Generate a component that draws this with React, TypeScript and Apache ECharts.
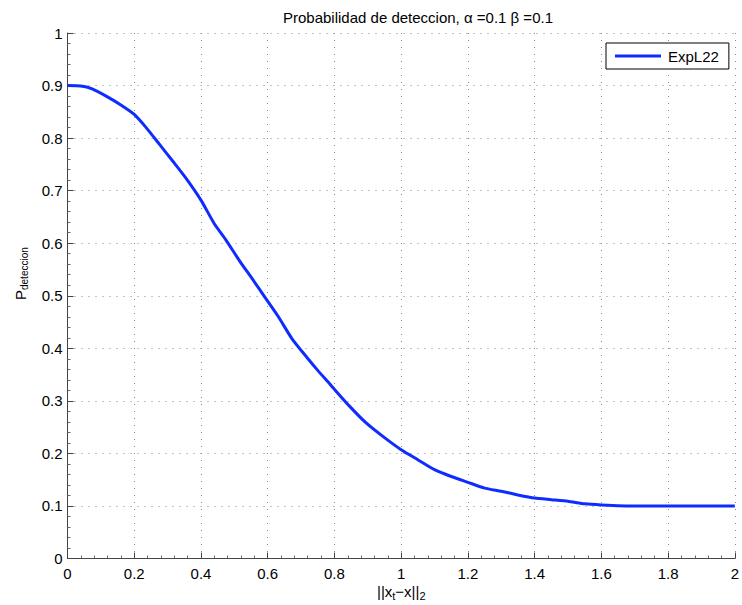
import React, { useEffect, useRef } from "react";
import * as echarts from "echarts";

const xValues = [0, 0.04, 0.072, 0.121, 0.16, 0.2, 0.237, 0.277, 0.317, 0.356, 0.4, 0.44, 0.475, 0.515, 0.554, 0.595, 0.633, 0.673, 0.717, 0.75, 0.785, 0.8, 0.845, 0.895, 0.95, 1.0, 1.05, 1.1, 1.15, 1.2, 1.25, 1.3, 1.35, 1.4, 1.45, 1.5, 1.55, 1.6, 1.7, 1.8, 1.9, 2.0];
const yValues = [0.9, 0.899, 0.894, 0.878, 0.863, 0.845, 0.819, 0.787, 0.755, 0.723, 0.682, 0.637, 0.606, 0.567, 0.532, 0.494, 0.459, 0.418, 0.383, 0.358, 0.333, 0.322, 0.29, 0.258, 0.23, 0.207, 0.188, 0.169, 0.156, 0.145, 0.134, 0.128, 0.121, 0.115, 0.112, 0.109, 0.104, 0.102, 0.1, 0.1, 0.1, 0.1];

const xTickLabels = ["0", "0.2", "0.4", "0.6", "0.8", "1", "1.2", "1.4", "1.6", "1.8", "2"];
const yTickLabels = ["0", "0.1", "0.2", "0.3", "0.4", "0.5", "0.6", "0.7", "0.8", "0.9", "1"];

const seriesName = "ExpL22";
const titleText = "Probabilidad de deteccion, \u03B1 =0.1 \u03B2 =0.1";

const FONT = "'Liberation Sans', Arial, Helvetica, sans-serif";

export default function App() {
  const ref = useRef<HTMLDivElement>(null);
  useEffect(() => {
    if (!ref.current) return;
    const chart = echarts.init(ref.current, null, { renderer: "svg" });
    const axisCommon = {
      axisLine: { show: true, onZero: false, lineStyle: { color: "#444", width: 1 } },
      axisTick: { show: true, inside: true, length: 6, lineStyle: { color: "#444", width: 1 } },
      minorTick: { show: true, splitNumber: 5, length: 3, lineStyle: { color: "#666", width: 1 } },
      splitLine: { show: true, lineStyle: { color: "#888", width: 1, type: [1, 6] } },
    };
    chart.setOption({
      animation: false,
      backgroundColor: "#fff",
      textStyle: { fontFamily: FONT },
      title: {
        text: titleText,
        left: 283,
        top: 10,
        padding: 0,
        textStyle: { fontSize: 15, fontWeight: "normal", color: "#000", fontFamily: FONT },
      },
      grid: { left: 67.5, right: 5, top: 33, bottom: 46.5, containLabel: false },
      legend: {
        data: [{ name: seriesName, icon: "rect" }],
        left: 606,
        top: 43,
        orient: "horizontal",
        backgroundColor: "#fff",
        borderColor: "#000",
        borderWidth: 1,
        borderRadius: 0,
        padding: [5, 10, 5, 9],
        itemWidth: 46,
        itemHeight: 3,
        itemStyle: { color: "#0f2cff", borderWidth: 0 },
        textStyle: { fontSize: 15, color: "#000", fontFamily: FONT, padding: [0, 0, 0, 2], lineHeight: 16 },
      },
      xAxis: {
        type: "value",
        min: 0,
        max: 2,
        interval: 0.2,
        ...axisCommon,
        axisLabel: {
          color: "#000",
          fontSize: 15,
          fontFamily: FONT,
          margin: 7,
          formatter: (v: number) => xTickLabels[Math.round(v / 0.2)] ?? "",
        },
      },
      yAxis: {
        type: "value",
        min: 0,
        max: 1,
        interval: 0.1,
        ...axisCommon,
        axisLabel: {
          color: "#000",
          fontSize: 15,
          fontFamily: FONT,
          margin: 5,
          formatter: (v: number) => yTickLabels[Math.round(v / 0.1)] ?? "",
        },
      },
      graphic: [
        {
          type: "text",
          left: 377,
          top: 584,
          style: {
            text: "{m|||x}{s|t}{m|\u2212x||}{s|2}",
            fill: "#000",
            font: `15px ${FONT}`,
            rich: {
              m: { fontSize: 15, fontFamily: FONT, fill: "#000" },
              s: { fontSize: 11, fontFamily: FONT, fill: "#000", padding: [8, 0, 0, 0] },
            },
          },
        },
        {
          type: "text",
          x: 11,
          y: 300,
          rotation: Math.PI / 2,
          style: {
            text: "{m|P}{s|deteccion}",
            fill: "#000",
            textAlign: "left",
            textVerticalAlign: "top",
            rich: {
              m: { fontSize: 15, fontFamily: FONT, fill: "#000" },
              s: { fontSize: 10, fontFamily: FONT, fill: "#000", padding: [8, 0, 0, 0] },
            },
          },
        },
      ],
      series: [
        {
          name: seriesName,
          type: "line",
          data: xValues.map((x, i) => [x, yValues[i]]),
          symbol: "none",
          showSymbol: false,
          smooth: 0.2,
          lineStyle: { color: "#0f2cff", width: 3 },
          itemStyle: { color: "#0f2cff" },
        },
      ],
    });
    return () => chart.dispose();
  }, []);
  return (
    <div
      ref={ref}
      style={{ position: "fixed", left: 0, top: 0, width: 742, height: 605 }}
    />
  );
}
